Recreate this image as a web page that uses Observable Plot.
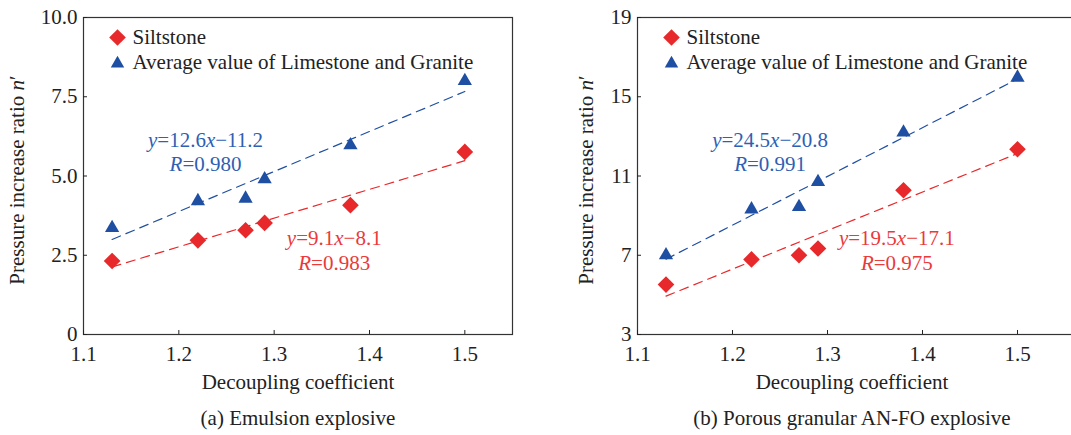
<!DOCTYPE html>
<html>
<head>
<meta charset="utf-8">
<script src="https://cdn.jsdelivr.net/npm/d3@7"></script>
<script src="https://cdn.jsdelivr.net/npm/@observablehq/plot@0.6"></script>
<style>
  html, body { margin: 0; padding: 0; background: #fff; }
  #wrap { position: relative; width: 1071px; height: 435px; overflow: hidden; background: #fff; }
  #wrap > div, #wrap > svg { position: absolute; top: 0; }
  #wrap svg, #wrap svg text { font-family: 'Liberation Serif', 'Times New Roman', serif; }
</style>
</head>
<body>
<div id="wrap"></div>
<script>
// ---------- data ----------
const decoupling = [1.13, 1.22, 1.27, 1.29, 1.38, 1.50];
const siltA = [2.32, 2.97, 3.29, 3.52, 4.08, 5.76];
const avgA  = [3.36, 4.21, 4.29, 4.90, 5.97, 8.00];
const siltB = [5.52, 6.79, 7.00, 7.34, 10.28, 12.35];
const avgB  = [7.00, 9.32, 9.44, 10.70, 13.20, 15.97];
const xTicks  = [1.1, 1.2, 1.3, 1.4, 1.5];
const yTicksA = [0, 2.5, 5, 7.5, 10];
const yTicksB = [3, 7, 11, 15, 19];
const seriesNames = ["Siltstone", "Average value of Limestone and Granite"];
const eqTextA = ["*y*=12.6*x*−11.2", "*R*=0.980", "*y*=9.1*x*−8.1", "*R*=0.983"];
const eqTextB = ["*y*=24.5*x*−20.8", "*R*=0.991", "*y*=19.5*x*−17.1", "*R*=0.975"];
const xLabel = "Decoupling coefficient";
const yLabel = "Pressure increase ratio *n*′";
const captions = ["(a) Emulsion explosive", "(b) Porous granular AN-FO explosive"];

const RED = "#e8292b", BLUE = "#1f4fa2";
const FONT = "'Liberation Serif', 'Times New Roman', serif";
const FS = 21;

function italicize(svg) {
  const ns = "http://www.w3.org/2000/svg";
  svg.querySelectorAll("text").forEach(t => {
    const s = t.textContent;
    if (!s.includes("*")) return;
    const parts = s.split("*");
    while (t.firstChild) t.removeChild(t.firstChild);
    parts.forEach((p, i) => {
      if (!p) return;
      const ts = document.createElementNS(ns, "tspan");
      if (i % 2 === 1) ts.setAttribute("font-style", "italic");
      ts.textContent = p;
      t.appendChild(ts);
    });
  });
}

function panel(o) {
  const silt = decoupling.map((x, i) => ({x, y: o.silt[i]}));
  const avg = decoupling.map((x, i) => ({x, y: o.avg[i]}));
  const T = {fill: "#222", fontSize: FS, fontFamily: FONT};
  const svg = Plot.plot({
    width: o.width, height: 435,
    marginLeft: o.marginLeft, marginRight: o.marginRight, marginTop: 17, marginBottom: 101,
    style: {fontFamily: FONT, fontSize: FS + "px", color: "#222", background: "transparent"},
    x: {domain: o.xDomain, ticks: xTicks, tickFormat: d => d.toFixed(1)},
    y: {domain: o.yDomain, ticks: o.yTicks, tickFormat: o.yFmt},
    marks: [
      Plot.frame({stroke: "#333", strokeWidth: 1.2}),
      Plot.axisX({ticks: xTicks, tickFormat: d => d.toFixed(1), tickSize: -4, tickPadding: 16, label: null, ...T}),
      Plot.axisY({ticks: o.yTicks, tickFormat: o.yFmt, tickSize: -4, tickPadding: 10, label: null, ...T}),
      Plot.linearRegressionY(avg, {x: "x", y: "y", ci: 0, stroke: BLUE, strokeWidth: 1.2, strokeDasharray: "9,6"}),
      Plot.linearRegressionY(silt, {x: "x", y: "y", ci: 0, stroke: RED, strokeWidth: 1.2, strokeDasharray: "9,6"}),
      Plot.dot(silt, {x: "x", y: "y", symbol: "diamond2", r: 7.5, fill: RED, stroke: "none"}),
      Plot.dot(avg, {x: "x", y: "y", symbol: "triangle", r: 5.3, fill: BLUE, stroke: "none"}),
      // legend
      Plot.dot([0], {frameAnchor: "top-left", dx: 34, dy: 20, symbol: "diamond2", r: 7.5, fill: RED, stroke: "none"}),
      Plot.dot([0], {frameAnchor: "top-left", dx: 34, dy: 46, symbol: "triangle", r: 5, fill: BLUE, stroke: "none"}),
      Plot.text([seriesNames[0]], {frameAnchor: "top-left", dx: 49, dy: 20, text: d => d, textAnchor: "start", lineAnchor: "middle", ...T}),
      Plot.text([seriesNames[1]], {frameAnchor: "top-left", dx: 49, dy: 45, text: d => d, textAnchor: "start", lineAnchor: "middle", ...T}),
      // equations
      Plot.text([o.eq[0]], {x: o.eqPos[0][0], y: o.eqPos[0][1], text: d => d, lineAnchor: "middle", ...T, fill: "#2f5fb3"}),
      Plot.text([o.eq[1]], {x: o.eqPos[1][0], y: o.eqPos[1][1], text: d => d, lineAnchor: "middle", ...T, fill: "#2f5fb3"}),
      Plot.text([o.eq[2]], {x: o.eqPos[2][0], y: o.eqPos[2][1], text: d => d, lineAnchor: "middle", ...T, fill: "#ea3a3a"}),
      Plot.text([o.eq[3]], {x: o.eqPos[3][0], y: o.eqPos[3][1], text: d => d, lineAnchor: "middle", ...T, fill: "#ea3a3a"}),
      // axis labels and caption
      Plot.text([xLabel], {frameAnchor: "bottom", dx: o.labelDx, dy: 48, text: d => d, textAnchor: "middle", lineAnchor: "middle", ...T}),
      Plot.text([o.caption], {frameAnchor: "bottom", dx: o.labelDx, dy: 84, text: d => d, textAnchor: "middle", lineAnchor: "middle", ...T}),
      Plot.text([yLabel], {frameAnchor: "left", dx: o.yLabelDx, dy: 4, rotate: -90, text: d => d, textAnchor: "middle", lineAnchor: "middle", ...T})
    ]
  });
  italicize(svg);
  svg.style.left = o.left + "px";
  return svg;
}

const wrap = document.getElementById("wrap");
wrap.appendChild(panel({
  left: 0, width: 535, marginLeft: 83, marginRight: 23,
  xDomain: [1.1, 1.55], yDomain: [0, 10], yTicks: yTicksA,
  yFmt: d => d === 0 ? "0" : d.toFixed(1),
  silt: siltA, avg: avgA, eq: eqTextA,
  eqPos: [[1.228, 6.13], [1.228, 5.37], [1.363, 3.05], [1.363, 2.25]],
  caption: captions[0], labelDx: 0, yLabelDx: -66
}));
wrap.appendChild(panel({
  left: 536, width: 545, marginLeft: 101, marginRight: 7,
  xDomain: [1.1, 1.56], yDomain: [3, 19], yTicks: yTicksB,
  yFmt: d => String(d),
  silt: siltB, avg: avgB, eq: eqTextB,
  eqPos: [[1.2396, 12.81], [1.2396, 11.6], [1.373, 7.88], [1.373, 6.6]],
  caption: captions[1], labelDx: -4, yLabelDx: -51
}));
</script>
</body>
</html>
